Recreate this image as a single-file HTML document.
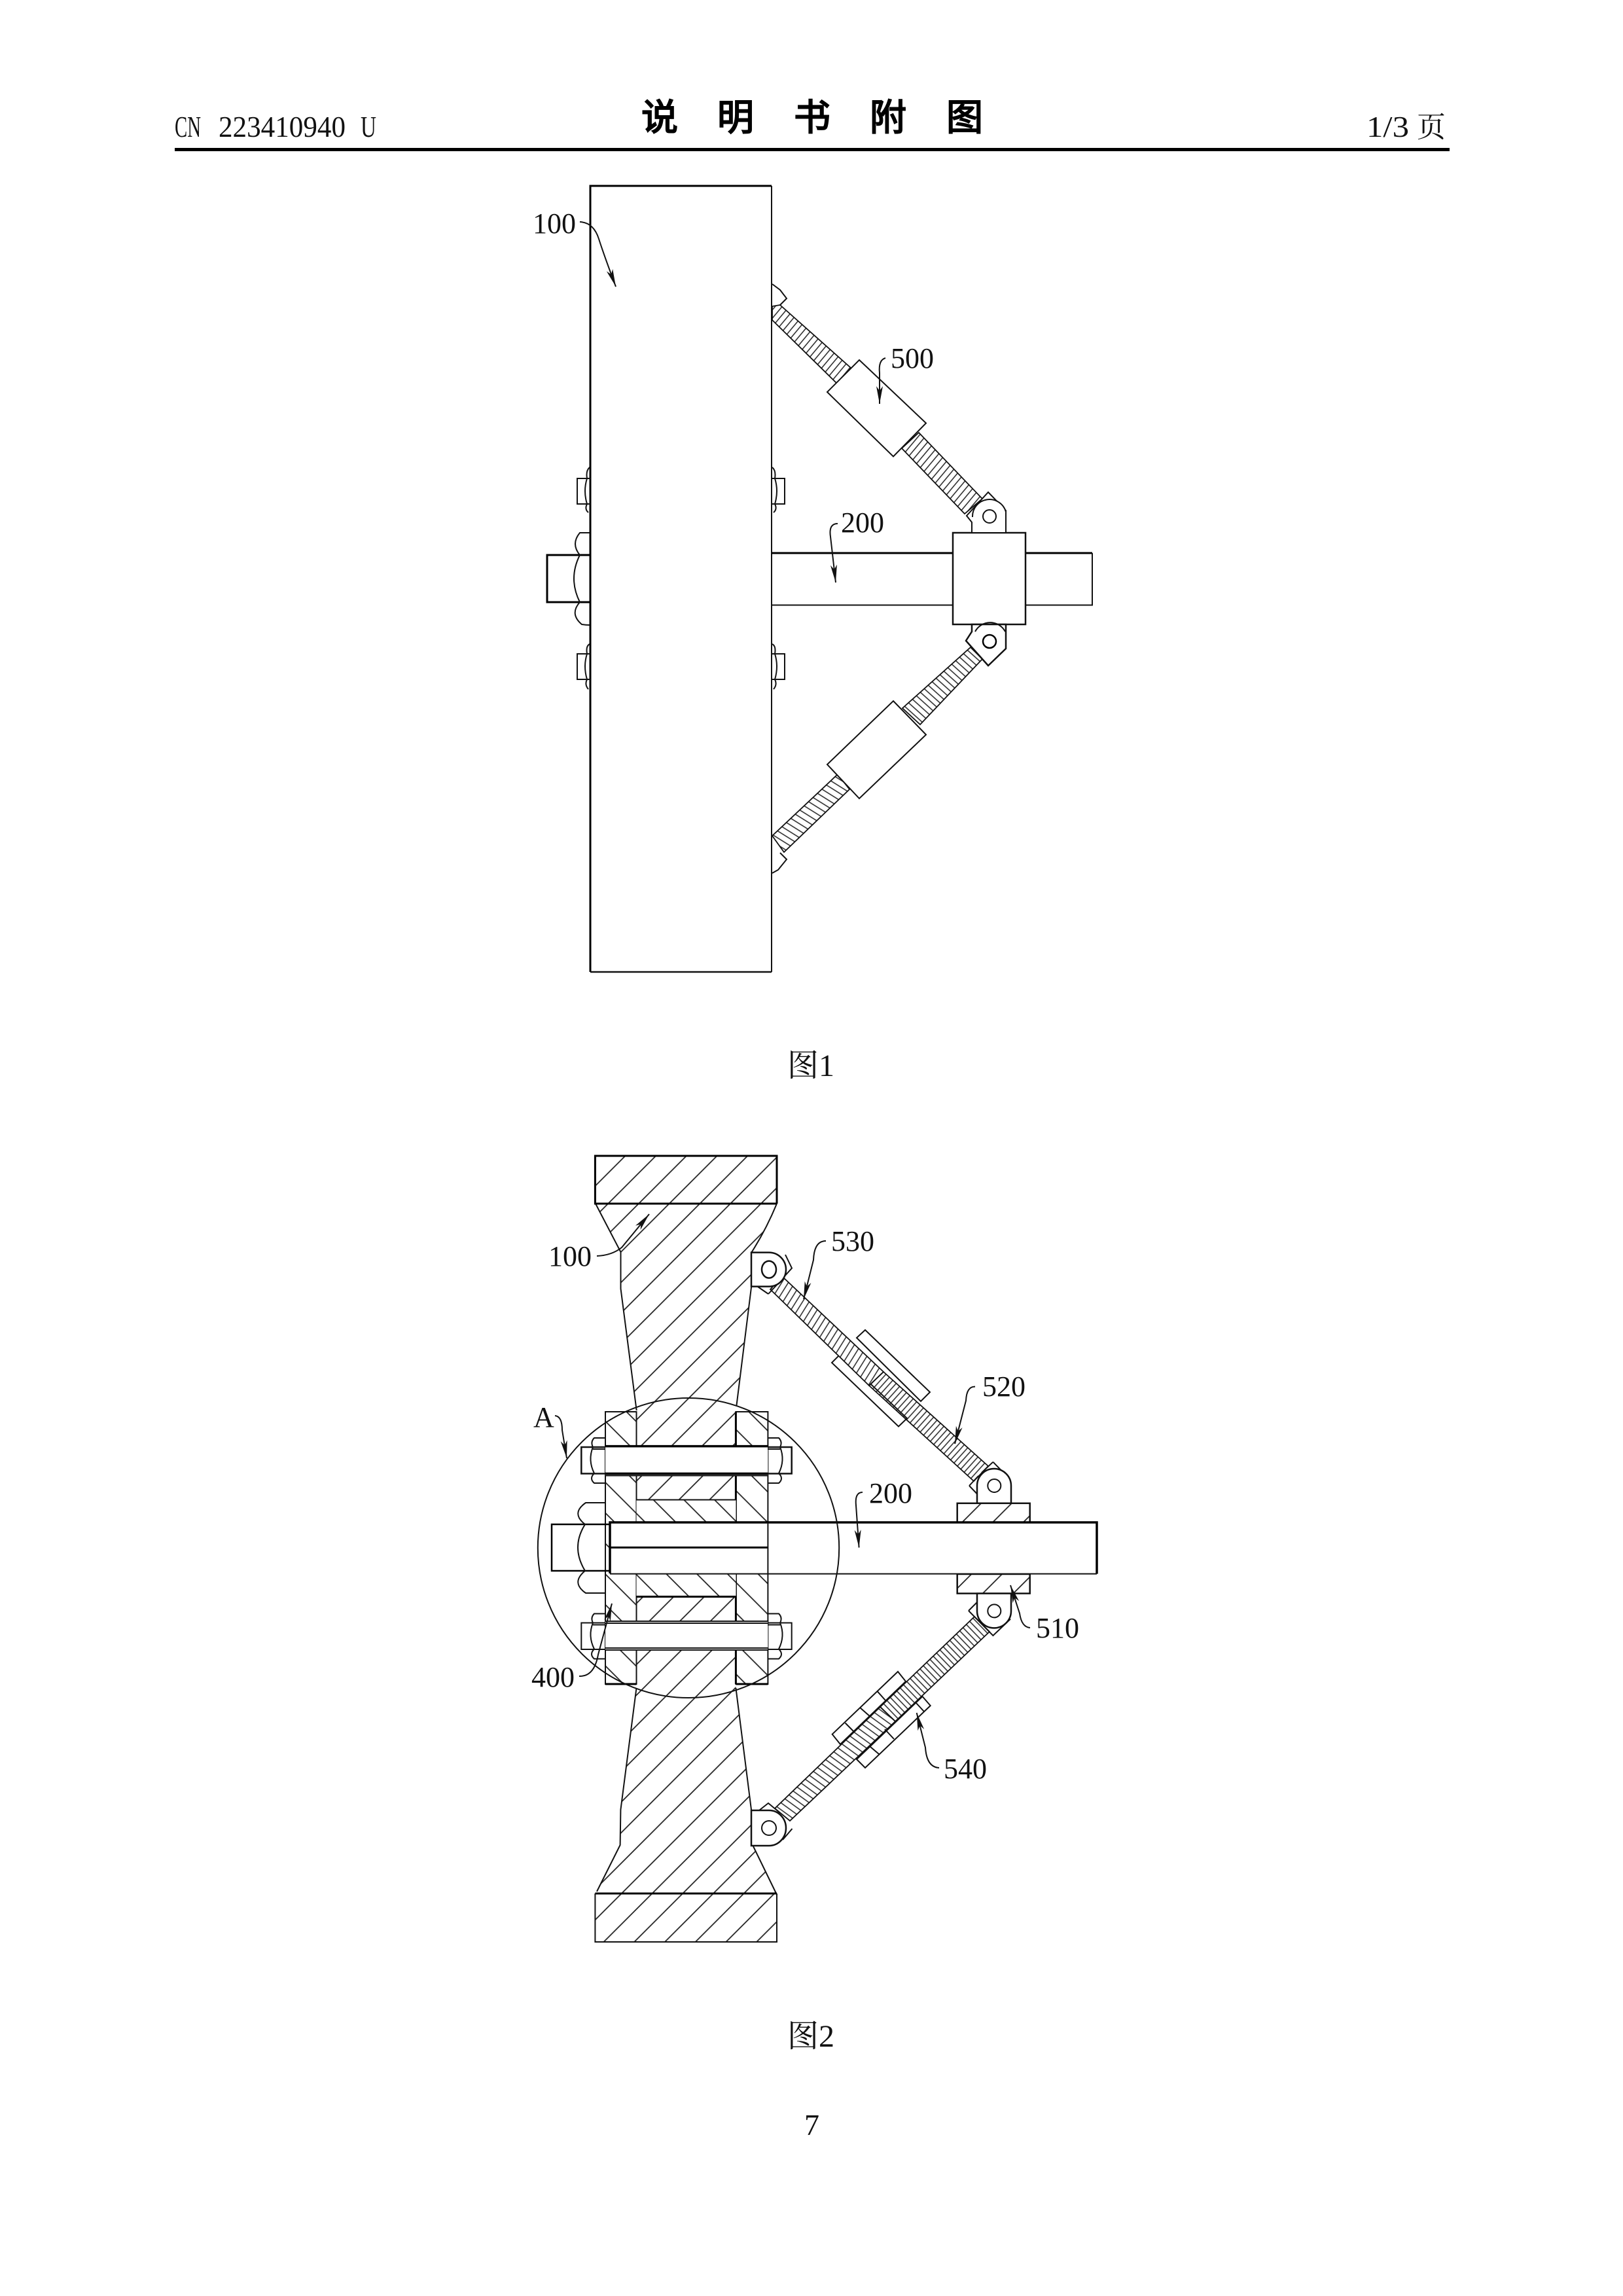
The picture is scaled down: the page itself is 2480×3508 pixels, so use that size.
<!DOCTYPE html>
<html><head><meta charset="utf-8"><title>说明书附图</title>
<style>
html,body{margin:0;padding:0;background:#fff}
svg{display:block}
text{fill:#111;font-family:"Liberation Serif","Noto Serif CJK SC",serif}
.t{fill:none;stroke:#111;stroke-width:2}
.k{fill:none;stroke:#000;stroke-width:3.5}
.w{fill:#fff;stroke:#111;stroke-width:2}
.l{fill:none;stroke:#111;stroke-width:2;marker-end:url(#a)}
.n{font-size:44px}
.hd{font-size:46px}
.h{font-family:"Liberation Sans","Noto Sans CJK SC",sans-serif;font-size:56px;font-weight:400;fill:#000;stroke:#000;stroke-width:2}
</style></head><body>
<svg xmlns="http://www.w3.org/2000/svg" width="2480" height="3508" viewBox="0 0 2480 3508">
<defs>
<marker id="a" markerUnits="userSpaceOnUse" markerWidth="28" markerHeight="12" refX="27" refY="6" orient="auto"><path d="M0 1 L27 6 L0 11 L7 6Z" fill="#111"/></marker>
<pattern id="h1" patternUnits="userSpaceOnUse" width="46.72" height="46.72" patternTransform="translate(11.74 0)"><path d="M-3 3 L3 -3 M0 46.72 L46.72 0 M43.72 49.72 L49.72 43.72" stroke="#222" stroke-width="1.8" fill="none"/></pattern>
<pattern id="h2" patternUnits="userSpaceOnUse" width="46.72" height="46.72" patternTransform="translate(15 0)"><path d="M-3 43.72 L3 49.72 M0 0 L46.72 46.72 M43.72 -3 L49.72 3" stroke="#222" stroke-width="1.8" fill="none"/></pattern>
<pattern id="p1" patternUnits="userSpaceOnUse" width="8.2" height="40" patternTransform="rotate(40)"><path d="M3 -1V41" stroke="#222" stroke-width="1.5"/></pattern>
<pattern id="p2" patternUnits="userSpaceOnUse" width="8" height="40" patternTransform="rotate(-48)"><path d="M3 -1V41" stroke="#222" stroke-width="1.5"/></pattern>
<pattern id="p3" patternUnits="userSpaceOnUse" width="9" height="40" patternTransform="rotate(-58)"><path d="M3 -1V41" stroke="#222" stroke-width="1.5"/></pattern>
<pattern id="p4" patternUnits="userSpaceOnUse" width="8.5" height="40" patternTransform="rotate(32)"><path d="M3 -1V41" stroke="#222" stroke-width="1.5"/></pattern>
<pattern id="p5" patternUnits="userSpaceOnUse" width="7" height="40" patternTransform="rotate(42)"><path d="M3 -1V41" stroke="#222" stroke-width="1.5"/></pattern>
<pattern id="p6" patternUnits="userSpaceOnUse" width="7" height="40" patternTransform="rotate(-44)"><path d="M3 -1V41" stroke="#222" stroke-width="1.5"/></pattern>
<pattern id="p7" patternUnits="userSpaceOnUse" width="8.5" height="40" patternTransform="rotate(-54)"><path d="M3 -1V41" stroke="#222" stroke-width="1.5"/></pattern>
</defs>
<rect width="2480" height="3508" fill="#fff"/>

<!-- header -->
<text x="267" y="209" class="hd" textLength="40" lengthAdjust="spacingAndGlyphs">CN</text>
<text x="334" y="209" class="hd" textLength="194" lengthAdjust="spacingAndGlyphs">223410940</text>
<text x="551" y="209" class="hd" textLength="24" lengthAdjust="spacingAndGlyphs">U</text>
<text x="980" y="199" class="h">说</text>
<text x="1096" y="199" class="h">明</text>
<text x="1213" y="199" class="h">书</text>
<text x="1329" y="199" class="h">附</text>
<text x="1446" y="199" class="h">图</text>
<text x="2088" y="209" class="hd" textLength="65" lengthAdjust="spacingAndGlyphs">1/3</text>
<text x="2165" y="209" class="n">页</text>
<rect x="267" y="226" width="1948" height="5" fill="#000"/>

<!-- FIG 1 -->
<g id="f1">
<path class="k" d="M902 1485V284H1179" style="stroke-width:3"/>
<path class="t" d="M1179 284V1485" />
<path class="t" d="M902 1485H1179" style="stroke-width:2.5"/>
<path class="k" d="M1179 845H1669" style="stroke-width:3"/>
<path class="t" d="M1179 924.5H1669V845"/>
<rect class="w" x="1456" y="814" width="111" height="140" style="stroke-width:2.5"/>
<path class="k" d="M902 848H836V920H902" style="stroke-width:3"/>
<path class="t" d="M901 814H886Q872 831 886 848Q868 884 886 920Q870 938 889 954Q895 955 901 955"/>
<path class="t" d="M902 731H882V770H902M901 714Q895 719 897 731Q891 750 897 770Q893 778 899 783"/>
<g transform="translate(0 268)"><path class="t" d="M902 731H882V770H902M901 716Q895 719 897 731Q891 750 897 770Q893 778 899 785"/></g>
<g transform="matrix(-1 0 0 1 2081 0)"><path class="t" d="M902 731H882V770H902M901 714Q895 719 897 731Q891 750 897 770Q893 778 899 783"/></g>
<g transform="matrix(-1 0 0 1 2081 268)"><path class="t" d="M902 731H882V770H902M901 716Q895 719 897 731Q891 750 897 770Q893 778 899 785"/></g>
<path class="t" d="M1180 434L1192 443L1202 456L1192 466"/>
<polygon points="1192,466 1300,562 1280,587 1180,489 1180,468" fill="url(#p1)" stroke="#111" stroke-width="1.8"/>
<polygon points="1404,661 1501,762 1474,785 1378,685" fill="url(#p1)" stroke="#111" stroke-width="1.8"/>
<polygon class="w" points="1313,550 1415,646.5 1365,697.5 1264,599"/>
<path class="w" d="M1485 814V798L1477 788L1510 752L1537 780V814Z"/>
<path class="w" d="M1486 790A26 26 0 0 1 1537 782"/>
<circle class="t" cx="1512" cy="789" r="10"/>
<polygon points="1483,989 1501,1007 1406,1107 1379,1082" fill="url(#p2)" stroke="#111" stroke-width="1.8"/>
<polygon points="1280,1183 1298,1206 1198,1302 1180,1277" fill="url(#p3)" stroke="#111" stroke-width="1.8"/>
<polygon class="w" points="1365,1071 1415,1122.5 1313,1220 1264,1168"/>
<path class="t" d="M1192 1303L1202 1313L1189 1329L1180 1334"/>
<path class="w" d="M1485 954V965L1476 979L1510 1017L1537 991V954Z" style="stroke-width:2.5"/>
<path class="t" d="M1490 965A26 26 0 0 1 1536 965"/>
<circle class="k" cx="1512" cy="980" r="10" style="stroke-width:2.5"/>
<path class="l" d="M886 339Q907 340 915 365T941 438"/>
<path class="l" d="M1353 547Q1342 550 1344 570L1344 617"/>
<path class="l" d="M1280 800Q1266 800 1269 820L1277 890"/>
<text x="814" y="356" class="n">100</text>
<text x="1361" y="562" class="n">500</text>
<text x="1285" y="813" class="n">200</text>
<text x="1203" y="1644" style="font-size:48px">图1</text>
</g>

<!-- FIG 2 -->
<g id="f2">
<path d="M909.4 1765.7H1187V1839Q1168 1880 1148 1914V1967L1125.5 2147L1124.4 2157V2579L1148 2765L1151 2821L1187 2893V2967H909.4V2893L947.6 2819L948.4 2765L972.5 2579V2157L972.7 2155L948.5 1969V1913L910 1839Z" fill="url(#h1)" stroke="none"/>
<path class="t" d="M1125.5 2147L1148 1967V1914Q1170 1880 1187 1839M972.7 2155L948.5 1969V1913L910 1839"/>
<path class="t" d="M972.5 2579L948.4 2765L947.6 2819L912 2890M1124.4 2579L1148 2765L1151 2821L1185.6 2892"/>
<path class="k" d="M1187 1839V1766H909.4V1839H1187" style="stroke-width:3"/>
<path class="k" d="M909.4 2893H1187" style="stroke-width:3"/>
<path class="t" d="M909.4 2893V2967H1187V2893"/>
<rect x="925" y="2157" width="47.5" height="416" fill="#fff"/>
<rect x="1124.4" y="2157" width="49" height="416" fill="#fff"/>
<rect x="925" y="2157" width="47.5" height="416" fill="url(#h2)" stroke="#111" stroke-width="2"/>
<rect x="1124.4" y="2157" width="49" height="416" fill="url(#h2)" stroke="#111" stroke-width="2"/>
<path class="k" d="M1124.4 2157V2573M925 2573H972.5M1124.4 2573H1173.4" style="stroke-width:3"/>
<rect x="972.5" y="2291.5" width="152" height="35" fill="#fff"/>
<rect x="972.5" y="2405" width="152" height="34.5" fill="#fff"/>
<rect x="972.5" y="2291.5" width="152" height="35" fill="url(#h2)"/>
<rect x="972.5" y="2405" width="152" height="34.5" fill="url(#h2)"/>
<path class="t" d="M972.5 2291.5H1124.4"/>
<path class="k" d="M972.5 2439.5H1124.4" style="stroke-width:3"/>
<rect x="925" y="2209.6" width="248.4" height="44.4" fill="#fff"/>
<rect x="925" y="2477" width="248.4" height="44" fill="#fff"/>
<path class="k" d="M925 2209.6H1173.4M925 2251.5H1173.4"/>
<path class="t" d="M925 2254.5H1173.4M925 2477H1173.4M925 2480H1173.4M925 2518H1173.4M925 2521H1173.4"/>
<path class="t" d="M925 2211H888.3V2251.5H925" style="stroke-width:2.5"/><path class="t" d="M925 2197H908Q902 2203 906 2211Q898 2231 908 2251Q900 2259 908 2266H925M906 2214H925"/>
<g transform="matrix(-1 0 0 1 2098 0)"><path class="t" d="M925 2211H888.3V2251.5H925" style="stroke-width:2.5"/><path class="t" d="M925 2197H908Q902 2203 906 2211Q898 2231 908 2251Q900 2259 908 2266H925M906 2214H925"/></g>
<g transform="translate(0 268.5)"><path class="t" d="M925 2211H888.3V2251.5H925"/><path class="t" d="M925 2197H908Q902 2203 906 2211Q898 2231 908 2251Q900 2259 908 2266H925M906 2214H925"/></g>
<g transform="matrix(-1 0 0 1 2098 268.5)"><path class="t" d="M925 2211H888.3V2251.5H925"/><path class="t" d="M925 2197H908Q902 2203 906 2211Q898 2231 908 2251Q900 2259 908 2266H925M906 2214H925"/></g>
<rect x="1462.7" y="2296.8" width="111" height="29.2" fill="url(#h1)" stroke="#111" stroke-width="2.5"/>
<rect x="1462.7" y="2405" width="111" height="29.6" fill="url(#h1)" stroke="#111" stroke-width="2.5"/>
<rect x="932" y="2326" width="744" height="78.6" fill="#fff"/>
<path class="k" d="M932 2404V2326H1676V2404.6" />
<path class="t" d="M932 2404.6H1676"/>
<path class="k" d="M932 2364.4H1173.4" style="stroke-width:3"/>
<path class="t" d="M1173.4 2326V2404.6M925 2296V2434"/>
<path class="k" d="M932 2329H843V2400H932" style="stroke-width:2.5"/>
<path class="t" d="M925 2296H895Q872 2312 894 2329Q872 2364 894 2400Q872 2418 895 2434H925"/>
<ellipse class="t" cx="1052" cy="2365" rx="230.2" ry="229"/>
<path class="t" d="M1322 2032L1421 2127L1407 2141L1309 2044ZM1283 2070L1386 2167L1373 2179.5L1271 2082Z"/>
<polygon points="1195,1950 1350,2096 1328,2117 1177,1970" fill="#fff"/>
<polygon points="1195,1950 1350,2096 1328,2117 1177,1970" fill="url(#p4)" stroke="#111" stroke-width="1.8"/>
<polygon points="1350,2096 1510,2240 1488,2263 1328,2117" fill="url(#p5)" stroke="#111" stroke-width="1.8"/>
<path class="t" d="M1174 1977L1158 1966M1174 1977L1190 1960M1200 1917L1210 1937.6L1197 1952"/>
<path class="w" d="M1148 1913.6H1175A26 26 0 0 1 1175 1965.6H1148Z" style="stroke-width:2.5"/>
<ellipse class="t" cx="1175" cy="1939.6" rx="11" ry="13" style="stroke-width:2.5"/>
<path class="t" d="M1517.4 2233.7L1544 2261M1517.4 2233.7L1500 2250M1481 2270L1494.4 2284M1481 2270L1495 2255"/>
<path class="w" d="M1493 2296.8V2270A26 26 0 0 1 1545 2270V2296.8Z" style="stroke-width:2.5"/>
<circle class="t" cx="1519.3" cy="2270" r="10"/>
<polygon points="1489,2470 1512,2493 1207,2782 1184,2763" fill="#fff"/>
<polygon points="1489,2470 1512,2493 1368,2630 1345,2608" fill="url(#p6)" stroke="#111" stroke-width="1.8"/>
<polygon points="1345,2608 1368,2630 1207,2782 1184,2763" fill="url(#p7)" stroke="#111" stroke-width="1.8"/>
<path class="t" d="M1372 2554L1384 2569L1284 2665L1271.7 2649.7ZM1409.5 2592L1421.7 2606L1322 2701L1309 2688Z"/>
<path class="t" d="M1341 2584.6L1353 2598M1314.6 2609.5L1330 2623M1291.6 2632.5L1305 2646M1352 2642L1366 2657M1330 2669L1343 2680M1399 2601L1412 2615"/>
<path class="t" d="M1480 2461L1517.4 2499L1544 2473.6M1480 2461L1496 2445"/>
<path class="w" d="M1493 2434.6V2461.4A26 26 0 0 0 1545 2461.4V2434.6Z" style="stroke-width:2.5"/>
<circle class="t" cx="1519.3" cy="2461.4" r="10"/>
<path class="t" d="M1160 2766L1174 2755L1192 2770M1210.5 2794L1196 2811"/>
<path class="w" d="M1148 2766H1175A26 27 0 0 1 1175 2820H1148Z" style="stroke-width:2.5"/>
<ellipse class="t" cx="1175" cy="2793" rx="11" ry="11"/>
<path class="l" d="M912 1919Q935 1918 950 1906L992 1855"/>
<path class="l" d="M1262 1896Q1244 1896 1243 1925L1228 1985"/>
<path class="l" d="M1490 2118.6Q1477 2118 1476 2140L1459 2206"/>
<path class="l" d="M848 2163Q859 2164 859 2185L866 2228"/>
<path class="l" d="M1318 2280Q1306 2280 1308 2300L1312.6 2364.5"/>
<path class="l" d="M1574 2487Q1561 2486 1558 2465L1544 2422"/>
<path class="l" d="M1435 2701Q1416 2700 1414 2670L1400.7 2617"/>
<path class="l" d="M885 2561Q908 2562 914 2528L935 2450"/>
<text x="838" y="1934" class="n">100</text>
<text x="1270" y="1911" class="n">530</text>
<text x="1501" y="2133" class="n">520</text>
<text x="815" y="2180" style="font-size:44px">A</text>
<text x="1328" y="2296" class="n">200</text>
<text x="1583" y="2502" class="n">510</text>
<text x="1442" y="2717" class="n">540</text>
<text x="812" y="2577" class="n">400</text>
<text x="1203" y="3127" style="font-size:48px">图2</text>
<text x="1229" y="3262" style="font-size:46px">7</text>
</g>
</svg>
</body></html>
